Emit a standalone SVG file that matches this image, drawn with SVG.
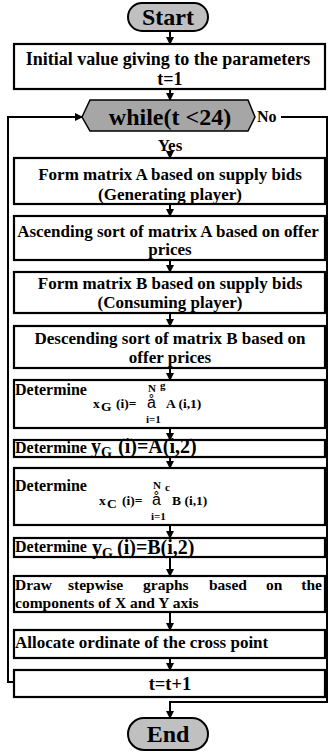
<svg xmlns="http://www.w3.org/2000/svg" width="328" height="753" viewBox="0 0 328 753">
<style>
text{font-family:"Liberation Serif","Times New Roman",serif;font-weight:bold;fill:#000}
.box{fill:#fff;stroke:#000;stroke-width:2.2}
.term{fill:#c0c0c0;stroke:#000;stroke-width:2}
.hex{fill:#a6a6a6;stroke:#000;stroke-width:1.5}
.ln{fill:none;stroke:#000;stroke-width:2}
.t17{font-size:17px}
.t16{font-size:15.5px}
.c{text-anchor:middle}
.f{font-size:13.5px}
.s{font-size:11px}
.sum{font-family:"Liberation Sans",Arial,sans-serif;font-weight:normal;font-size:16px}
</style>
<defs>
<marker id="ah" markerWidth="8" markerHeight="8" refX="7" refY="4" orient="auto" markerUnits="userSpaceOnUse">
<path d="M0,0 L8,4 L0,8 z" fill="#000"/>
</marker>
</defs>
<g id="connectors">
<line class="ln" x1="170" y1="31" x2="170" y2="44" marker-end="url(#ah)"/>
<line class="ln" x1="170" y1="89" x2="170" y2="100" marker-end="url(#ah)"/>
<line class="ln" x1="170" y1="153" x2="170" y2="158" marker-end="url(#ah)"/>
<line class="ln" x1="170" y1="204" x2="170" y2="216" marker-end="url(#ah)"/>
<line class="ln" x1="170" y1="260" x2="170" y2="272" marker-end="url(#ah)"/>
<line class="ln" x1="170" y1="313" x2="170" y2="326" marker-end="url(#ah)"/>
<line class="ln" x1="170" y1="368" x2="170" y2="380" marker-end="url(#ah)"/>
<line class="ln" x1="170" y1="428" x2="170" y2="440" marker-end="url(#ah)"/>
<line class="ln" x1="170" y1="457" x2="170" y2="468" marker-end="url(#ah)"/>
<line class="ln" x1="170" y1="525" x2="170" y2="538" marker-end="url(#ah)"/>
<line class="ln" x1="170" y1="557" x2="170" y2="576" marker-end="url(#ah)"/>
<line class="ln" x1="170" y1="612" x2="170" y2="630" marker-end="url(#ah)"/>
<line class="ln" x1="170" y1="658" x2="170" y2="670" marker-end="url(#ah)"/>
<polyline class="ln" points="14,682 8,682 8,117 82,117" marker-end="url(#ah)"/>
<polyline class="ln" points="281,117 327,117 327,702 170,702 170,718" marker-end="url(#ah)"/>
<text x="257" y="122" style="font-size:16px">No</text>
<text x="170" y="151" class="c" style="font-size:17px">Yes</text>
</g>
<g id="start">
<rect class="term" x="128" y="3" width="80" height="28" rx="14"/>
<text x="168" y="25" class="c" style="font-size:24px">Start</text>
</g>
<g id="init">
<rect class="box" x="14" y="44" width="311" height="45"/>
<text x="168" y="65" class="c" style="font-size:18px">Initial value giving to the parameters</text>
<text x="170" y="85" class="c" style="font-size:18px">t=1</text>
</g>
<g id="while">
<polygon class="hex" points="82,117 90,100 248,100 255,117 248,131 90,131"/>
<text x="170" y="125" class="c" style="font-size:24px">while(t &lt;24)</text>
</g>
<g id="formA">
<rect class="box" x="14" y="158" width="311" height="46"/>
<text x="170" y="180" class="c t17">Form matrix A based on supply bids</text>
<text x="170" y="200" class="c t17">(Generating player)</text>
</g>
<g id="sortA">
<rect class="box" x="14" y="216" width="311" height="44"/>
<text x="168" y="237" class="c t17">Ascending sort of matrix A based on offer</text>
<text x="170" y="255" class="c t17">prices</text>
</g>
<g id="formB">
<rect class="box" x="14" y="272" width="311" height="41"/>
<text x="170" y="289" class="c t17">Form matrix B based on supply bids</text>
<text x="170" y="308" class="c t17">(Consuming player)</text>
</g>
<g id="sortB">
<rect class="box" x="14" y="326" width="311" height="42"/>
<text x="170" y="344" class="c t17">Descending sort of matrix B based on</text>
<text x="170" y="363" class="c t17">offer prices</text>
</g>
<g id="xG">
<rect class="box" x="14" y="380" width="311" height="48"/>
<text x="15" y="395" style="font-size:16px">Determine</text>
<text x="93" y="408" class="f">x</text>
<text x="101" y="411" class="f">G</text>
<text x="116" y="408" class="f">(i)=</text>
<text x="147" y="408" class="sum">å</text>
<text x="148" y="392" class="s">N</text>
<text x="160" y="389" class="s">g</text>
<text x="166" y="408" class="f">A (i,1)</text>
<text x="146" y="423" class="s">i=1</text>
</g>
<g id="yGA">
<rect class="box" x="14" y="440" width="311" height="17"/>
<text x="15" y="453" style="font-size:16px">Determine</text>
<text x="91" y="453" style="font-size:20px">y</text>
<text x="101" y="457" style="font-size:14px">G</text>
<text x="118" y="453" style="font-size:20px">(i)=A(i,2)</text>
</g>
<g id="xC">
<rect class="box" x="14" y="468" width="311" height="57"/>
<text x="15" y="491" style="font-size:16px">Determine</text>
<text x="99" y="505" class="f">x</text>
<text x="107" y="508" class="f">C</text>
<text x="122" y="505" class="f">(i)=</text>
<text x="152" y="505" class="sum">å</text>
<text x="153" y="489" class="s">N</text>
<text x="165" y="491" class="s">c</text>
<text x="172" y="505" class="f">B (i,1)</text>
<text x="151" y="520" class="s">i=1</text>
</g>
<g id="yGB">
<rect class="box" x="14" y="538" width="311" height="19"/>
<text x="15" y="552" style="font-size:16px">Determine</text>
<text x="92" y="554" style="font-size:20px">y</text>
<text x="102" y="558" style="font-size:14px">G</text>
<text x="117" y="554" style="font-size:20px">(i)=B(i,2)</text>
</g>
<g id="draw">
<rect class="box" x="14" y="576" width="311" height="36"/>
<text x="15" y="590" class="t16">Draw</text>
<text x="68" y="590" class="t16">stepwise</text>
<text x="143" y="590" class="t16">graphs</text>
<text x="209" y="590" class="t16">based</text>
<text x="266" y="590" class="t16">on</text>
<text x="322" y="590" class="t16" text-anchor="end">the</text>
<text x="15" y="607.5" class="t16">components of X and Y axis</text>
</g>
<g id="alloc">
<rect class="box" x="14" y="630" width="311" height="28"/>
<text x="15" y="648" class="t17">Allocate ordinate of the cross point</text>
</g>
<g id="inc">
<rect class="box" x="14" y="670" width="311" height="27"/>
<text x="170" y="690" class="c" style="font-size:18.5px">t=t+1</text>
</g>
<g id="end">
<rect class="term" x="128" y="718" width="80" height="32" rx="16"/>
<text x="168" y="742" class="c" style="font-size:24px">End</text>
</g>
</svg>
